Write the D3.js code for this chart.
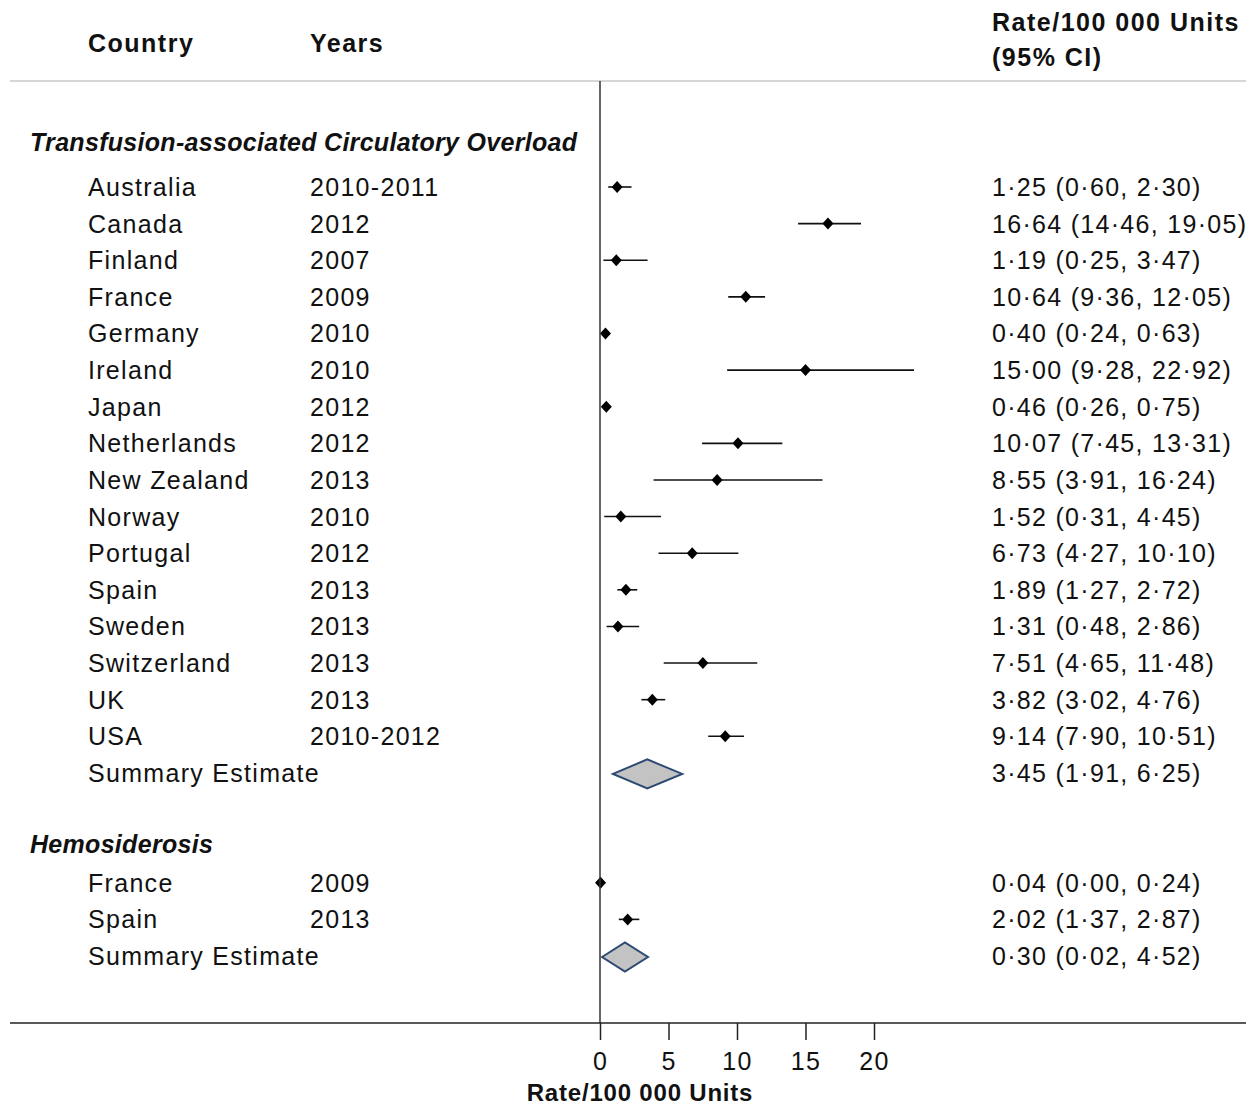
<!DOCTYPE html>
<html>
<head>
<meta charset="utf-8">
<script src="https://cdn.jsdelivr.net/npm/d3@7"></script>
<style>
  body { margin: 0; background: #fff; }
  text { font-family: "Liberation Sans", Arial, sans-serif; fill: #111; }
</style>
</head>
<body>
<script>
// data
var tacoCountries = ["Australia", "Canada", "Finland", "France", "Germany", "Ireland", "Japan", "Netherlands",
                     "New Zealand", "Norway", "Portugal", "Spain", "Sweden", "Switzerland", "UK", "USA"];
var tacoYears = ["2010-2011", "2012", "2007", "2009", "2010", "2010", "2012", "2012",
                 "2013", "2010", "2012", "2013", "2013", "2013", "2013", "2010-2012"];
var tacoRate = [1.25, 16.64, 1.19, 10.64, 0.40, 15.00, 0.46, 10.07, 8.55, 1.52, 6.73, 1.89, 1.31, 7.51, 3.82, 9.14];
var tacoLo   = [0.60, 14.46, 0.25, 9.36, 0.24, 9.28, 0.26, 7.45, 3.91, 0.31, 4.27, 1.27, 0.48, 4.65, 3.02, 7.90];
var tacoHi   = [2.30, 19.05, 3.47, 12.05, 0.63, 22.92, 0.75, 13.31, 16.24, 4.45, 10.10, 2.72, 2.86, 11.48, 4.76, 10.51];

var hemoCountries = ["France", "Spain"];
var hemoYears = ["2009", "2013"];
var hemoRate = [0.04, 2.02];
var hemoLo   = [0.00, 1.37];
var hemoHi   = [0.24, 2.87];

// summary estimates (labels) and the diamonds as drawn in the figure
var summaryLabels = ["3·45 (1·91, 6·25)", "0·30 (0·02, 4·52)"];
var diamondLo  = [0.95, 0.15];
var diamondMid = [3.45, 1.82];
var diamondHi  = [6.0, 3.5];

var xTicks = [0, 5, 10, 15, 20];

function fmt(v) { return v.toFixed(2).replace(".", "\u00B7"); }

//Width and height
var w = 1246;
var h = 1105;

var svg = d3.select("body")
            .append("svg")
            .attr("width", w)
            .attr("height", h);

var xScale = d3.scaleLinear()
            .domain([0, 20])
            .range([600, 874]);

// row index -> vertical position
var yScale = d3.scaleLinear()
            .domain([0, 21])
            .range([187, 956]);

var fs = 25;
var ls = 1.3;
var colCountry = 88, colYears = 310, colRate = 992;

// header
function headText(x, y, s) {
    svg.append("text").attr("x", x).attr("y", y)
        .attr("font-size", fs).attr("font-weight", "bold")
        .attr("letter-spacing", 1.5).text(s);
}
headText(colCountry, 52, "Country");
headText(colYears, 52, "Years");
headText(colRate, 31, "Rate/100 000 Units");
headText(colRate, 66, "(95% CI)");

// top rule
svg.append("line").attr("x1", 10).attr("x2", w).attr("y1", 81).attr("y2", 81)
    .attr("stroke", "#c8c8c8").attr("stroke-width", 1.5);

// build row list
var rows = [];
rows.push({type: "head", i: -1.23, label: "Transfusion-associated Circulatory Overload"});
tacoCountries.forEach(function(c, k){
    rows.push({type: "study", i: k, country: c, year: tacoYears[k], r: tacoRate[k], lo: tacoLo[k], hi: tacoHi[k]});
});
rows.push({type: "sum", i: 16, k: 0});
rows.push({type: "head", i: 17.95, label: "Hemosiderosis"});
hemoCountries.forEach(function(c, k){
    rows.push({type: "study", i: 19 + k, country: c, year: hemoYears[k], r: hemoRate[k], lo: hemoLo[k], hi: hemoHi[k]});
});
rows.push({type: "sum", i: 21, k: 1});

// section headers
svg.selectAll(".head")
    .data(rows.filter(function(d){ return d.type == "head"; }))
    .enter().append("text")
    .attr("class", "head")
    .attr("x", 30)
    .attr("y", function(d){ return yScale(d.i); })
    .attr("dy", "0.36em")
    .attr("font-size", fs)
    .attr("letter-spacing", 0.3)
    .attr("font-weight", "bold")
    .attr("font-style", "italic")
    .text(function(d){ return d.label; });

var studies = rows.filter(function(d){ return d.type == "study"; });

// text columns
var st = svg.selectAll(".srow").data(studies).enter().append("g").attr("class", "srow");
st.append("text").attr("x", colCountry).attr("y", function(d){ return yScale(d.i); })
    .attr("dy", "0.36em").attr("font-size", fs).attr("letter-spacing", ls)
    .text(function(d){ return d.country; });
st.append("text").attr("x", colYears).attr("y", function(d){ return yScale(d.i); })
    .attr("dy", "0.36em").attr("font-size", fs).attr("letter-spacing", ls)
    .text(function(d){ return d.year; });
st.append("text").attr("x", colRate).attr("y", function(d){ return yScale(d.i); })
    .attr("dy", "0.36em").attr("font-size", fs).attr("letter-spacing", ls)
    .text(function(d){ return fmt(d.r) + " (" + fmt(d.lo) + ", " + fmt(d.hi) + ")"; });

// CI lines
st.append("line")
    .attr("x1", function(d){ return xScale(d.lo); })
    .attr("x2", function(d){ return xScale(d.hi); })
    .attr("y1", function(d){ return yScale(d.i); })
    .attr("y2", function(d){ return yScale(d.i); })
    .attr("stroke", "#111").attr("stroke-width", 1.6);

// point estimates
st.append("path")
    .attr("d", "M0,-6L5.5,0L0,6L-5.5,0Z")
    .attr("transform", function(d){ return "translate(" + xScale(d.r) + "," + yScale(d.i) + ")"; })
    .attr("fill", "#000");

// summary rows
var sums = svg.selectAll(".sum")
    .data(rows.filter(function(d){ return d.type == "sum"; }))
    .enter().append("g").attr("class", "sum");
sums.append("text").attr("x", colCountry).attr("y", function(d){ return yScale(d.i); })
    .attr("dy", "0.36em").attr("font-size", fs).attr("letter-spacing", ls).text("Summary Estimate");
sums.append("text").attr("x", colRate).attr("y", function(d){ return yScale(d.i); })
    .attr("dy", "0.36em").attr("font-size", fs).attr("letter-spacing", ls)
    .text(function(d){ return summaryLabels[d.k]; });
sums.append("path")
    .attr("d", function(d){
        var y = yScale(d.i) + 1;
        return "M" + xScale(diamondLo[d.k]) + "," + y +
               "L" + xScale(diamondMid[d.k]) + "," + (y - 14.5) +
               "L" + xScale(diamondHi[d.k]) + "," + y +
               "L" + xScale(diamondMid[d.k]) + "," + (y + 14.5) + "Z";
    })
    .attr("fill", "#c3c3c3")
    .attr("stroke", "#2d4a73")
    .attr("stroke-width", 2);

// null line
svg.append("line").attr("x1", xScale(0)).attr("x2", xScale(0)).attr("y1", 81).attr("y2", 1023)
    .attr("stroke", "#333").attr("stroke-width", 1.5);

// bottom rule
svg.append("line").attr("x1", 10).attr("x2", w).attr("y1", 1023).attr("y2", 1023)
    .attr("stroke", "#222").attr("stroke-width", 1.5);

// X axis
var xAxis = svg.append("g")
    .attr("transform", "translate(0,1023)")
    .call(d3.axisBottom(xScale).tickValues(xTicks).tickSize(17).tickPadding(12).tickFormat(d3.format("d")));
xAxis.select(".domain").remove();
xAxis.selectAll("line").attr("stroke", "#222").attr("stroke-width", 1.5);
xAxis.selectAll("text").attr("font-size", fs).attr("letter-spacing", ls)
    .attr("font-family", "Liberation Sans, Arial, sans-serif").attr("fill", "#111");

//label for X axis
svg.append("text")
    .attr("x", 640).attr("y", 1101)
    .attr("text-anchor", "middle")
    .attr("font-size", 24).attr("font-weight", "bold").attr("letter-spacing", 0.8)
    .text("Rate/100 000 Units");
</script>
</body>
</html>
